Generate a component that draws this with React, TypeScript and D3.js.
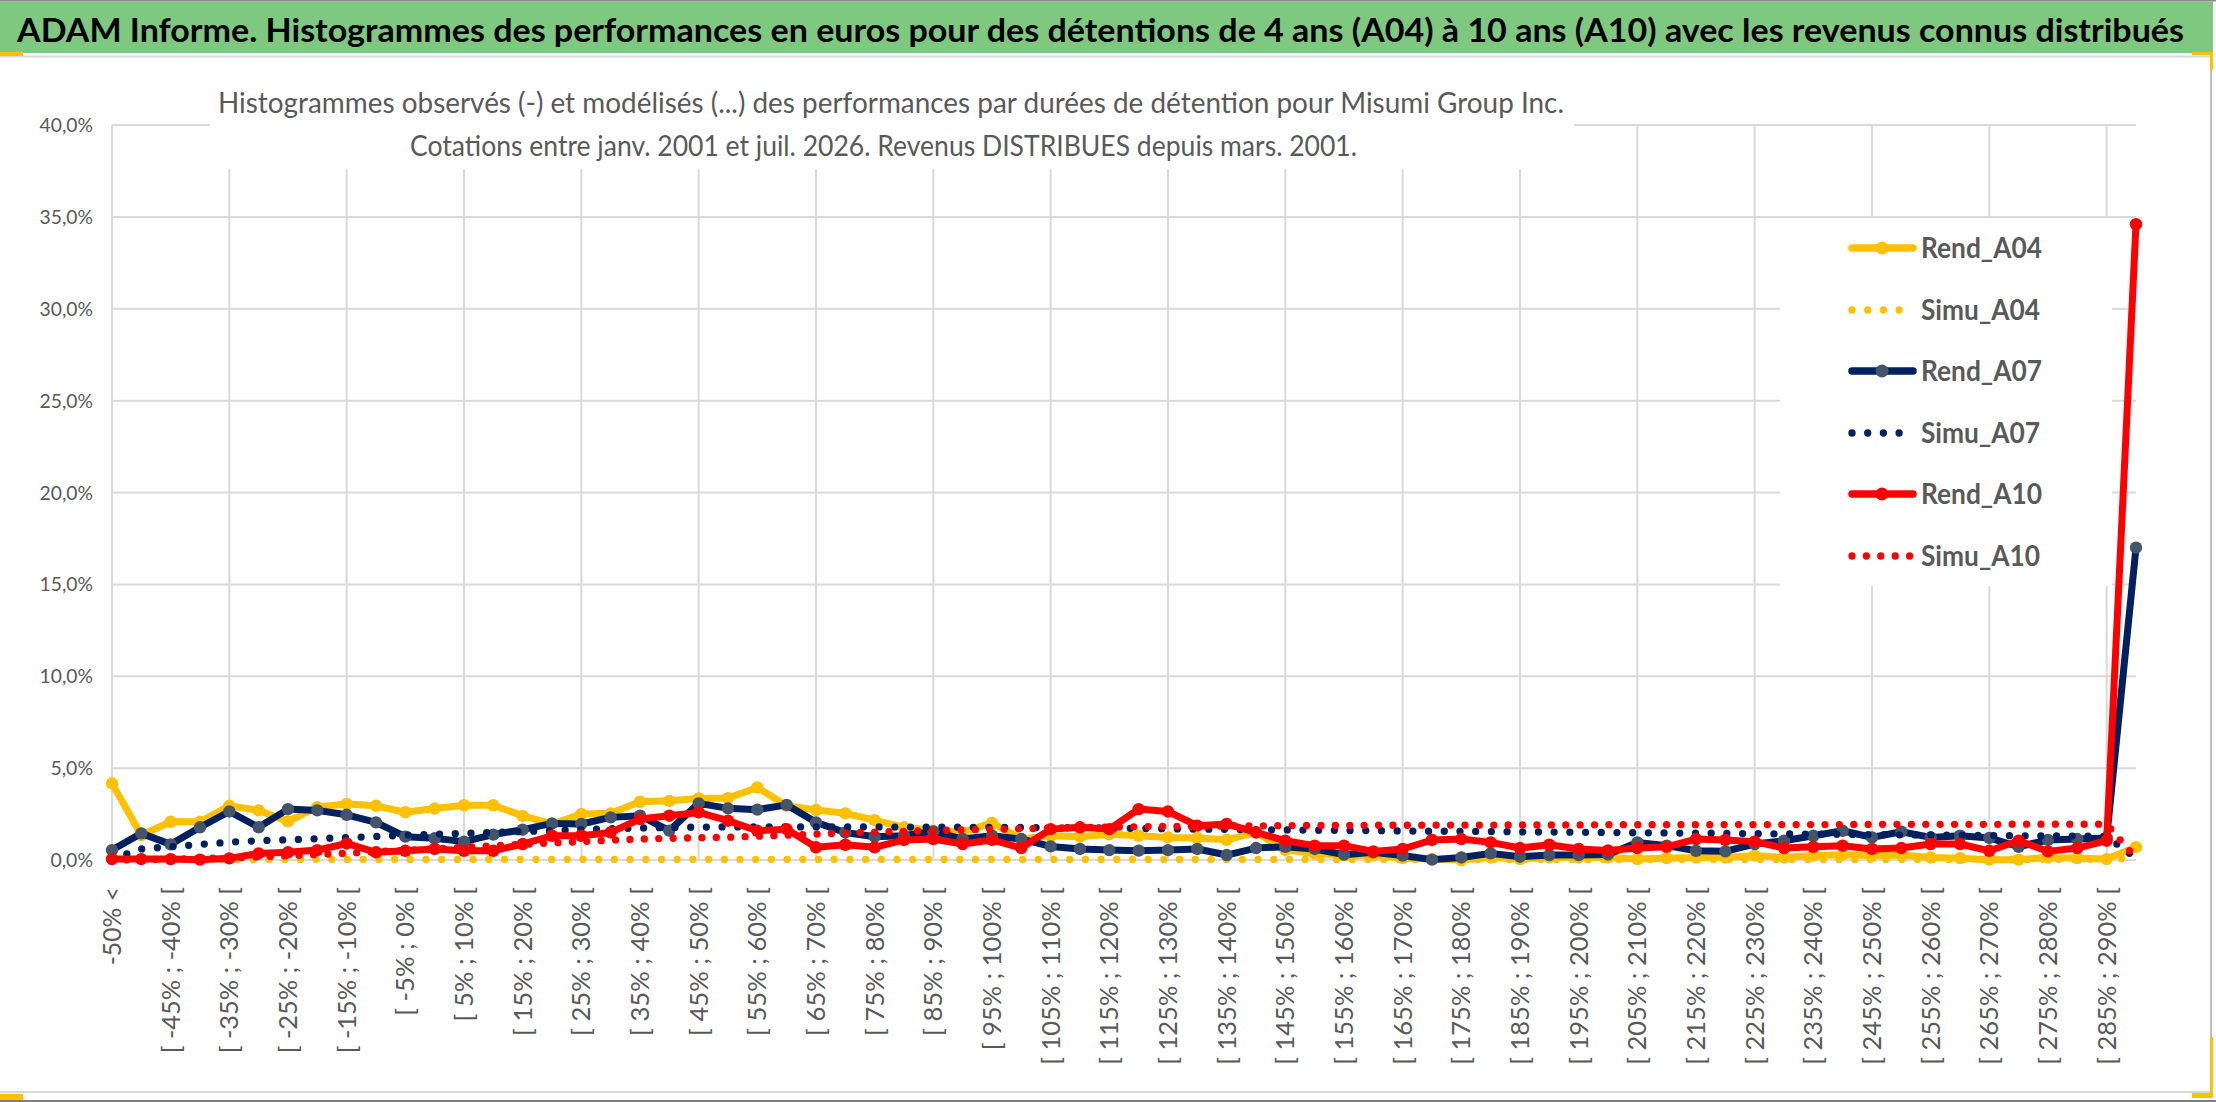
import * as d3 from 'd3';

// Categories (classes de performance)
const categories = [
  "-50% <",
  "[ -50% ; -45% [", "[ -45% ; -40% [", "[ -40% ; -35% [", "[ -35% ; -30% [",
  "[ -30% ; -25% [", "[ -25% ; -20% [", "[ -20% ; -15% [", "[ -15% ; -10% [",
  "[ -10% ; -5% [", "[ -5% ; 0% [", "[ 0% ; 5% [", "[ 5% ; 10% [",
  "[ 10% ; 15% [", "[ 15% ; 20% [", "[ 20% ; 25% [", "[ 25% ; 30% [",
  "[ 30% ; 35% [", "[ 35% ; 40% [", "[ 40% ; 45% [", "[ 45% ; 50% [",
  "[ 50% ; 55% [", "[ 55% ; 60% [", "[ 60% ; 65% [", "[ 65% ; 70% [",
  "[ 70% ; 75% [", "[ 75% ; 80% [", "[ 80% ; 85% [", "[ 85% ; 90% [",
  "[ 90% ; 95% [", "[ 95% ; 100% [", "[ 100% ; 105% [", "[ 105% ; 110% [",
  "[ 110% ; 115% [", "[ 115% ; 120% [", "[ 120% ; 125% [", "[ 125% ; 130% [",
  "[ 130% ; 135% [", "[ 135% ; 140% [", "[ 140% ; 145% [", "[ 145% ; 150% [",
  "[ 150% ; 155% [", "[ 155% ; 160% [", "[ 160% ; 165% [", "[ 165% ; 170% [",
  "[ 170% ; 175% [", "[ 175% ; 180% [", "[ 180% ; 185% [", "[ 185% ; 190% [",
  "[ 190% ; 195% [", "[ 195% ; 200% [", "[ 200% ; 205% [", "[ 205% ; 210% [",
  "[ 210% ; 215% [", "[ 215% ; 220% [", "[ 220% ; 225% [", "[ 225% ; 230% [",
  "[ 230% ; 235% [", "[ 235% ; 240% [", "[ 240% ; 245% [", "[ 245% ; 250% [",
  "[ 250% ; 255% [", "[ 255% ; 260% [", "[ 260% ; 265% [", "[ 265% ; 270% [",
  "[ 270% ; 275% [", "[ 275% ; 280% [", "[ 280% ; 285% [", "[ 285% ; 290% [",
  "290% >",
];

// valeurs en %
const rendA04 = [
  4.17, 1.35, 2.08, 2.08, 2.95, 2.7, 2.1, 2.88, 3.05, 2.95,
  2.6, 2.8, 2.98, 2.98, 2.4, 1.96, 2.5, 2.54, 3.17, 3.22,
  3.35, 3.37, 3.95, 2.95, 2.72, 2.54, 2.17, 1.78, 1.6, 1.5,
  2.02, 1.15, 1.32, 1.27, 1.4, 1.32, 1.23, 1.2, 1.1, 1.5,
  0.55, 0.35, 0.25, 0.25, 0.1, 0.05, 0.0, 0.14, 0.05, 0.14,
  0.14, 0.14, 0.05, 0.1, 0.14, 0.14, 0.24, 0.14, 0.24, 0.29,
  0.24, 0.27, 0.14, 0.1, 0.02, 0.02, 0.14, 0.1, 0.05, 0.7,
];

const simuA04 = [
  0.0, 0.01, 0.01, 0.02, 0.02, 0.02, 0.03, 0.03, 0.03, 0.03,
  0.03, 0.03, 0.03, 0.03, 0.03, 0.03, 0.03, 0.03, 0.03, 0.03,
  0.03, 0.03, 0.03, 0.03, 0.03, 0.03, 0.03, 0.03, 0.03, 0.03,
  0.03, 0.03, 0.03, 0.03, 0.03, 0.03, 0.03, 0.03, 0.03, 0.03,
  0.03, 0.03, 0.03, 0.03, 0.03, 0.03, 0.03, 0.03, 0.03, 0.03,
  0.03, 0.03, 0.03, 0.03, 0.03, 0.03, 0.03, 0.03, 0.03, 0.03,
  0.03, 0.03, 0.03, 0.03, 0.03, 0.03, 0.04, 0.04, 0.05, 0.1,
];

const rendA07 = [
  0.54, 1.45, 0.85, 1.78, 2.64, 1.78, 2.77, 2.7, 2.46, 2.05,
  1.27, 1.18, 1.0, 1.38, 1.65, 1.99, 1.96, 2.32, 2.41, 1.6,
  3.08, 2.81, 2.74, 3.0, 2.05, 1.5, 1.27, 1.32, 1.56, 1.14,
  1.32, 1.14, 0.74, 0.6, 0.54, 0.51, 0.54, 0.6, 0.27, 0.65,
  0.72, 0.6, 0.29, 0.42, 0.24, 0.02, 0.14, 0.36, 0.18, 0.27,
  0.27, 0.3, 0.96, 0.78, 0.5, 0.47, 0.87, 1.05, 1.32, 1.59,
  1.23, 1.54, 1.23, 1.32, 1.2, 0.72, 1.09, 1.14, 1.2, 17.0,
];

const simuA07 = [
  0.05, 0.6, 0.72, 0.85, 0.97, 1.05, 1.1, 1.16, 1.22, 1.28,
  1.35, 1.4, 1.45, 1.5, 1.55, 1.6, 1.65, 1.7, 1.74, 1.77,
  1.79, 1.8, 1.8, 1.8, 1.8, 1.8, 1.8, 1.79, 1.79, 1.78,
  1.78, 1.77, 1.76, 1.75, 1.74, 1.72, 1.7, 1.68, 1.67, 1.65,
  1.64, 1.62, 1.61, 1.6, 1.58, 1.57, 1.56, 1.55, 1.53, 1.52,
  1.51, 1.5, 1.48, 1.47, 1.46, 1.45, 1.43, 1.42, 1.41, 1.4,
  1.38, 1.37, 1.36, 1.35, 1.33, 1.32, 1.31, 1.3, 1.28, 0.1,
];

const rendA10 = [
  0.05, 0.05, 0.05, 0.02, 0.09, 0.36, 0.42, 0.54, 0.9, 0.42,
  0.5, 0.6, 0.5, 0.5, 0.87, 1.32, 1.32, 1.5, 2.23, 2.41,
  2.59, 2.14, 1.59, 1.68, 0.69, 0.83, 0.69, 1.09, 1.14, 0.87,
  1.09, 0.65, 1.68, 1.78, 1.68, 2.77, 2.64, 1.87, 1.96, 1.5,
  1.05, 0.78, 0.78, 0.47, 0.6, 1.09, 1.14, 0.96, 0.65, 0.83,
  0.6, 0.52, 0.65, 0.72, 1.14, 1.09, 1.0, 0.65, 0.72, 0.78,
  0.6, 0.65, 0.87, 0.87, 0.5, 1.05, 0.47, 0.65, 1.05, 34.6,
];

const simuA10 = [
  0.0, 0.02, 0.05, 0.08, 0.12, 0.17, 0.23, 0.3, 0.37, 0.45,
  0.53, 0.61, 0.69, 0.77, 0.85, 0.93, 1.0, 1.08, 1.14, 1.18,
  1.21, 1.24, 1.29, 1.35, 1.41, 1.47, 1.52, 1.56, 1.6, 1.64,
  1.67, 1.7, 1.73, 1.76, 1.79, 1.81, 1.83, 1.84, 1.85, 1.86,
  1.87, 1.88, 1.88, 1.89, 1.89, 1.9, 1.9, 1.9, 1.91, 1.91,
  1.91, 1.92, 1.92, 1.92, 1.92, 1.93, 1.93, 1.93, 1.93, 1.93,
  1.94, 1.94, 1.94, 1.94, 1.94, 1.95, 1.95, 1.95, 1.95, 0.1,
];

const yTicks = [0, 5, 10, 15, 20, 25, 30, 35, 40];
const yTickLabels = ["0,0%", "5,0%", "10,0%", "15,0%", "20,0%", "25,0%", "30,0%", "35,0%", "40,0%"];

const TITLE = "ADAM Informe. Histogrammes des performances en euros pour des détentions de 4 ans (A04) à 10 ans (A10) avec les revenus connus distribués";
const SUB1 = "Histogrammes observés (-) et modélisés (...) des performances par durées de détention pour Misumi Group Inc.";
const SUB2 = "Cotations entre janv. 2001 et juil. 2026. Revenus DISTRIBUES depuis mars. 2001.";

const YELLOW = "#FFC000";
const NAVY = "#002060";
const SLATE = "#44546A";
const RED = "#FF0000";
const GREY_TXT = "#595959";
const GRID = "#d9d9d9";
const FONT = "Lato, 'Open Sans', sans-serif";

const series = [
  { name: "Rend_A04", values: rendA04, color: YELLOW, marker: YELLOW, dotted: false, gap: 15.7 },
  { name: "Simu_A04", values: simuA04, color: YELLOW, marker: YELLOW, dotted: true, gap: 15.7 },
  { name: "Rend_A07", values: rendA07, color: NAVY, marker: SLATE, dotted: false, gap: 15.7 },
  { name: "Simu_A07", values: simuA07, color: NAVY, marker: NAVY, dotted: true, gap: 15.7 },
  { name: "Rend_A10", values: rendA10, color: RED, marker: RED, dotted: false, gap: 14.4 },
  { name: "Simu_A10", values: simuA10, color: RED, marker: RED, dotted: true, gap: 14.4 },
];

// largeurs approx. de Calibri (em) pour caler les longueurs de texte
const CAL_REG: Record<string, number> = {
  " ": 0.226, "-": 0.306, "%": 0.715, ",": 0.25, ";": 0.268, "[": 0.307, "<": 0.498, ">": 0.498,
};
const CAL_BOLD: Record<string, number> = {
  R: 0.563, e: 0.503, n: 0.537, d: 0.537, _: 0.498, A: 0.606, S: 0.473, i: 0.246, m: 0.813, u: 0.537,
};
function calWidth(s: string, table: Record<string, number>, size: number) {
  let w = 0;
  for (const c of s) w += table[c] ?? (/\d/.test(c) ? 0.507 : 0.5);
  return w * size;
}

const W = 2216;
const H = 1102;
const plot = { left: 112, right: 2136, top: 125, bottom: 860 };

export default function App() {
  const x = d3.scalePoint<string>().domain(categories).range([plot.left, plot.right]);
  const y = d3.scaleLinear().domain([0, 40]).range([plot.bottom, plot.top]);
  const line = d3.line<number>()
    .x((_, i) => x(categories[i]) as number)
    .y(d => y(d));

  const legendY = [248, 310, 371, 433, 494, 556];

  return (
    <div style={{ position: "absolute", left: 0, top: 0 }}>
      <svg width={W} height={H} viewBox={`0 0 ${W} ${H}`} style={{ display: "block", background: "#fff" }}>
        <rect x={0} y={0} width={W} height={H} fill="#ffffff" />

        {/* bandeau titre */}
        <rect x={0} y={1.5} width={2213} height={51.5} fill="#7fc87f" />
        <line x1={0} x2={W} y1={0.75} y2={0.75} stroke="#8c8c8c" strokeWidth={1.5} />
        <text x={17} y={42} fontFamily={FONT} fontSize={33} fontWeight={700} fill="#000"
          textLength={2167} lengthAdjust="spacingAndGlyphs">{TITLE}</text>

        {/* cadre du graphique */}
        <line x1={0} x2={2211} y1={56.5} y2={56.5} stroke={GRID} strokeWidth={2} />
        <line x1={2211} x2={2211} y1={53} y2={1092} stroke="#bfbfbf" strokeWidth={2} />
        <line x1={0} x2={2211} y1={1092} y2={1092} stroke={GRID} strokeWidth={2} />
        <line x1={0} x2={W} y1={1101} y2={1101} stroke="#7f7f7f" strokeWidth={2} />

        {/* grille */}
        <g stroke={GRID} strokeWidth={2}>
          {yTicks.map(t => (
            <line key={"h" + t} x1={plot.left} x2={plot.right} y1={y(t)} y2={y(t)} />
          ))}
          {categories.map((c, i) => i % 4 === 0 ? (
            <line key={"v" + i} x1={x(c)} x2={x(c)} y1={plot.top} y2={plot.bottom} />
          ) : null)}
        </g>

        {/* étiquettes axe Y */}
        {yTicks.map((t, i) => (
          <text key={"yl" + t} x={93} y={y(t) + 7} textAnchor="end" fontFamily={FONT} fontSize={19}
            fill={GREY_TXT} textLength={calWidth(yTickLabels[i], CAL_REG, 21.5)}
            lengthAdjust="spacingAndGlyphs">{yTickLabels[i]}</text>
        ))}

        {/* étiquettes axe X */}
        {categories.map((c, i) => i % 2 === 0 && i < 69 ? (
          <text key={"xl" + i} transform={`translate(${x(c)},887) rotate(-90)`} textAnchor="end"
            dy="0.36em" fontFamily={FONT} fontSize={25} fill={GREY_TXT}
            textLength={calWidth(c, CAL_REG, 28.4)} lengthAdjust="spacingAndGlyphs">{c}</text>
        ) : null)}

        {/* séries */}
        {series.map(s => (
          <g key={s.name}>
            <path d={line(s.values) || ""} fill="none" stroke={s.color}
              strokeWidth={s.dotted ? 7.3 : 7} strokeLinejoin="round" strokeLinecap="round"
              strokeDasharray={s.dotted ? `0 ${s.gap}` : undefined} />
            {!s.dotted && s.values.map((v, i) => (
              <circle key={i} cx={x(categories[i])} cy={y(v)} r={6.2} fill={s.marker} />
            ))}
          </g>
        ))}

        {/* boîte du sous-titre */}
        <rect x={210} y={62} width={1364} height={107} fill="#ffffff" />
        <text x={218} y={113} fontFamily={FONT} fontSize={28} fill={GREY_TXT}
          textLength={1346} lengthAdjust="spacingAndGlyphs">{SUB1}</text>
        <text x={410} y={156} fontFamily={FONT} fontSize={28} fill={GREY_TXT}
          textLength={947} lengthAdjust="spacingAndGlyphs">{SUB2}</text>

        {/* légende */}
        <rect x={1780} y={218} width={332} height={368} fill="#ffffff" />
        {series.map((s, i) => {
          const ly = legendY[i];
          return (
            <g key={"lg" + s.name}>
              {s.dotted ? (
                <line x1={1852} x2={s.color === RED ? 1910.5 : 1899.5} y1={ly} y2={ly} stroke={s.color}
                  strokeWidth={7.3} strokeLinecap="round" strokeDasharray={`0 ${s.gap}`} />
              ) : (
                <g>
                  <line x1={1852} x2={1913} y1={ly} y2={ly} stroke={s.color} strokeWidth={7.5}
                    strokeLinecap="round" />
                  <circle cx={1882} cy={ly} r={6.5} fill={s.marker} />
                </g>
              )}
              <text x={1921} y={ly + 10} fontFamily={FONT} fontSize={28} fontWeight={700} fill={GREY_TXT}
                textLength={calWidth(s.name, CAL_BOLD, 28.4)} lengthAdjust="spacingAndGlyphs">{s.name}</text>
            </g>
          );
        })}

        {/* poignées jaunes */}
        <g fill={YELLOW}>
          <rect x={0} y={52} width={23} height={4} />
          <rect x={2192} y={52} width={21} height={3} />
          <rect x={2210} y={52} width={3} height={18} />
          <rect x={0} y={1094} width={23} height={6} />
          <rect x={2210} y={1037} width={3} height={61} />
          <rect x={2192} y={1093} width={21} height={5} />
        </g>
      </svg>
    </div>
  );
}
